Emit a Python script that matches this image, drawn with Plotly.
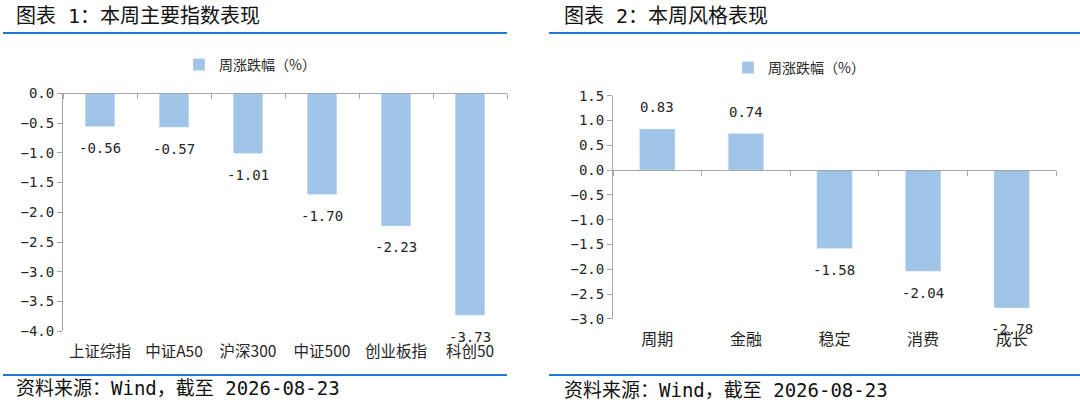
import plotly.graph_objects as go

# chart 1: main indices
index_names = ["上证综指", "中证A50", "沪深300", "中证500", "创业板指", "科创50"]
index_chg = [-0.56, -0.57, -1.01, -1.70, -2.23, -3.73]

# chart 2: style
style_names = ["周期", "金融", "稳定", "消费", "成长"]
style_chg = [0.83, 0.74, -1.58, -2.04, -2.78]

legend_name = "周涨跌幅（%）"
titles = ["图表 1：本周主要指数表现", "图表 2：本周风格表现"]
source_text = "资料来源：Wind，截至 2026-08-23"

W, H = 1080, 406
BAR = "#a0c4e8"
BLUE = "#1f7ad0"
AXIS = "#a6a6a6"
TXT = "#262626"
MONO = "DejaVu Sans Mono, Noto Sans CJK SC"
CJK = "Noto Sans CJK SC"


def px_x(p):
    return p / W


def px_y(p):
    return (H - p) / H


# plot areas in pixels: (left, right, top, bottom) and y ranges
left_box = (63, 507, 93.3, 331.3)
right_box = (613, 1056, 95.7, 318.8)
left_range = [-4.0, 0.0]
right_range = [-3.0, 1.5]


def zero_pos(box, rng):
    bot, top = px_y(box[3]), px_y(box[2])
    return bot + (0 - rng[0]) / (rng[1] - rng[0]) * (top - bot)


fig = go.Figure()

fig.add_trace(go.Bar(x=index_names, y=index_chg, name=legend_name,
                     marker_color=BAR, xaxis="x", yaxis="y",
                     legend="legend", hoverinfo="skip"))
fig.add_trace(go.Scatter(x=index_names, y=index_chg, mode="markers",
                         marker=dict(opacity=0), xaxis="x3", yaxis="y",
                         showlegend=False, hoverinfo="skip"))
fig.add_trace(go.Bar(x=style_names, y=style_chg, name=legend_name,
                     marker_color=BAR, xaxis="x2", yaxis="y2",
                     legend="legend2", hoverinfo="skip"))
fig.add_trace(go.Scatter(x=style_names, y=style_chg, mode="markers",
                         marker=dict(opacity=0), xaxis="x4", yaxis="y2",
                         showlegend=False, hoverinfo="skip"))

label_axis = dict(type="category", showline=False, ticks="", showgrid=False,
                  zeroline=False, ticklabelstandoff=9, automargin=False,
                  tickfont=dict(family=CJK, size=15.5, color=TXT))
line_axis = dict(type="category", showline=True, linecolor=AXIS, linewidth=1,
                 ticks="outside", tickson="boundaries", ticklen=5,
                 tickcolor=AXIS, showticklabels=False, showgrid=False,
                 zeroline=False, anchor="free", side="bottom", automargin=False)
y_axis = dict(showline=True, linecolor=AXIS, linewidth=1, ticks="outside",
              ticklen=5, tickcolor=AXIS, dtick=0.5, tickformat=".1f",
              showgrid=False, zeroline=False, automargin=False,
              tickfont=dict(family=MONO, size=14, color=TXT))

fig.update_layout(
    width=W, height=H,
    margin=dict(l=0, r=0, t=0, b=0, pad=0, autoexpand=False),
    paper_bgcolor="white", plot_bgcolor="white",
    bargap=0.6,
    xaxis=dict(label_axis, domain=[px_x(left_box[0]), px_x(left_box[1])], anchor="y"),
    xaxis3=dict(line_axis, overlaying="x", matches="x",
                position=zero_pos(left_box, left_range)),
    yaxis=dict(y_axis, domain=[px_y(left_box[3]), px_y(left_box[2])],
               range=left_range, anchor="x"),
    xaxis2=dict(label_axis, domain=[px_x(right_box[0]), px_x(right_box[1])], anchor="y2",
                tickfont=dict(family=CJK, size=16, color=TXT)),
    xaxis4=dict(line_axis, overlaying="x2", matches="x2",
                position=zero_pos(right_box, right_range)),
    yaxis2=dict(y_axis, domain=[px_y(right_box[3]), px_y(right_box[2])],
                range=right_range, anchor="x2"),
    legend=dict(x=px_x(250), y=px_y(65), xanchor="center", yanchor="middle",
                orientation="h", font=dict(family=CJK, size=14, color=TXT),
                itemwidth=30),
    legend2=dict(x=px_x(799), y=px_y(68), xanchor="center", yanchor="middle",
                 orientation="h", font=dict(family=CJK, size=14, color=TXT),
                 itemwidth=30),
)

# value labels
for names, vals, xa, ya in [(index_names, index_chg, "x", "y"),
                            (style_names, style_chg, "x2", "y2")]:
    for n, v in zip(names, vals):
        fig.add_annotation(x=n, y=v, xref=xa, yref=ya, text=f"{v:.2f}",
                           showarrow=False, yshift=21.5 if v >= 0 else -21.5,
                           font=dict(family=MONO, size=14, color=TXT))

# titles, rules and source lines
for x0, x1 in [(3, 507), (549, 1080)]:
    for yy in (33, 375):
        fig.add_shape(type="line", xref="paper", yref="paper",
                      x0=px_x(x0), x1=px_x(x1), y0=px_y(yy), y1=px_y(yy),
                      line=dict(color=BLUE, width=2))
for tx, title in zip((14, 562), titles):
    fig.add_annotation(x=px_x(tx), y=px_y(16), xref="paper", yref="paper",
                       xanchor="left", yanchor="middle", showarrow=False,
                       text=title, font=dict(family=MONO, size=20, color="#111"))
for tx, ty in ((14, 388), (562, 390)):
    fig.add_annotation(x=px_x(tx), y=px_y(ty), xref="paper", yref="paper",
                       xanchor="left", yanchor="middle", showarrow=False,
                       text=source_text, font=dict(family=MONO, size=19, color="#111"))

# drop the default page margin so the figure sits at the window corner
fig.write_html("out.html", config={"displayModeBar": False},
               post_script="document.body.style.margin='0';")
